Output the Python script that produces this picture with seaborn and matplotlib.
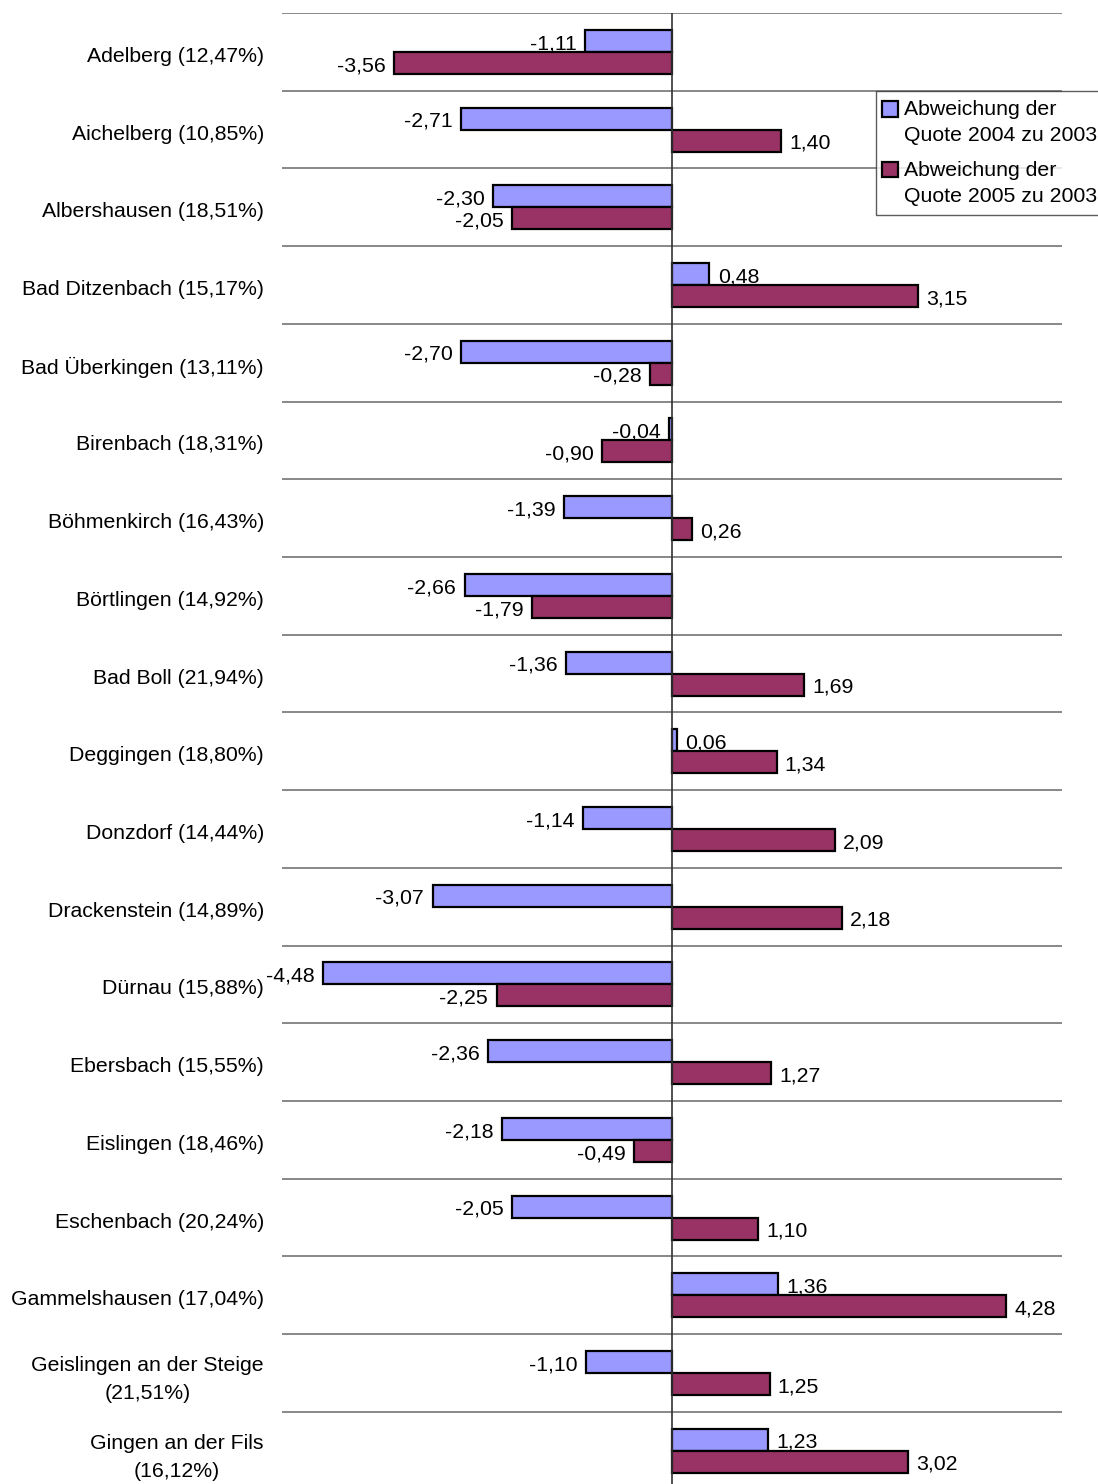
import pandas as pd
import matplotlib
matplotlib.use("Agg")
import matplotlib.pyplot as plt
from matplotlib.patches import Rectangle
from matplotlib.legend_handler import HandlerPatch
from matplotlib.transforms import ScaledTranslation
import seaborn as sns

# Gemeinden mit Quote 2003 in Klammern
gemeinden = [
    "Adelberg (12,47%)", "Aichelberg (10,85%)", "Albershausen (18,51%)",
    "Bad Ditzenbach (15,17%)", "Bad Überkingen (13,11%)", "Birenbach (18,31%)",
    "Böhmenkirch (16,43%)", "Börtlingen (14,92%)", "Bad Boll (21,94%)",
    "Deggingen (18,80%)", "Donzdorf (14,44%)", "Drackenstein (14,89%)",
    "Dürnau (15,88%)", "Ebersbach (15,55%)", "Eislingen (18,46%)",
    "Eschenbach (20,24%)", "Gammelshausen (17,04%)",
    "Geislingen an der Steige\n(21,51%)", "Gingen an der Fils\n(16,12%)",
]
abw_2004 = [-1.11, -2.71, -2.30, 0.48, -2.70, -0.04, -1.39, -2.66, -1.36, 0.06,
            -1.14, -3.07, -4.48, -2.36, -2.18, -2.05, 1.36, -1.10, 1.23]
abw_2005 = [-3.56, 1.40, -2.05, 3.15, -0.28, -0.90, 0.26, -1.79, 1.69, 1.34,
            2.09, 2.18, -2.25, 1.27, -0.49, 1.10, 4.28, 1.25, 3.02]
serien = ["Abweichung der\nQuote 2004 zu 2003", "Abweichung der\nQuote 2005 zu 2003"]

df = pd.concat([
    pd.DataFrame({"gemeinde": gemeinden, "wert": abw_2004, "serie": serien[0]}),
    pd.DataFrame({"gemeinde": gemeinden, "wert": abw_2005, "serie": serien[1]}),
])

sns.set_style("white")
plt.rcParams["font.family"] = ["Liberation Sans", "DejaVu Sans"]
plt.rcParams["text.color"] = "black"
plt.rcParams["ytick.labelcolor"] = "black"
fs = 15.3


class TopSquare(HandlerPatch):
    # Legendenquadrat an der ersten Textzeile ausrichten
    def create_artists(self, legend, orig_handle, xdescent, ydescent,
                       width, height, fontsize, trans):
        p = Rectangle((-xdescent - 2.2, -ydescent + 10.0), width, height)
        self.update_prop(p, orig_handle, legend)
        p.set_transform(trans)
        return [p]


fig = plt.figure(figsize=(10.98, 14.84), dpi=100)
ax = fig.add_axes([282 / 1098, 1 - 1489.5 / 1484, 780 / 1098, 1476.5 / 1484])

sns.barplot(data=df, x="wert", y="gemeinde", hue="serie", orient="h",
            palette=["#9999FF", "#993366"], width=0.566, edgecolor="black",
            linewidth=1.6, saturation=1, ax=ax)

ax.set_xlim(-5, 5)
ax.set_ylim(len(gemeinden) - 0.5, -0.5)
for s in ax.spines.values():
    s.set_visible(False)
ax.set_xticks([])
ax.set_xlabel("")
ax.set_ylabel("")
ax.tick_params(axis="y", length=0, pad=13, labelsize=fs)
shift = ScaledTranslation(0, -2.5 / 100, fig.dpi_scale_trans)
for lbl in ax.get_yticklabels():
    lbl.set_multialignment("center")
    lbl.set_linespacing(1.6)
    if "\n" not in lbl.get_text():
        lbl.set_transform(lbl.get_transform() + shift)

# Trennlinien zwischen den Gemeinden und Nulllinie
for i in range(len(gemeinden) + 1):
    ax.axhline(i - 0.5, color="#7f7f7f", lw=1.3, zorder=0)
ax.axvline(0, color="#333333", lw=1.2, zorder=3)

# Wertebeschriftung
for cont in ax.containers:
    for bar in cont:
        w = bar.get_width()
        y = bar.get_y() + bar.get_height() / 2
        txt = f"{w:.2f}".replace(".", ",")
        if w < 0:
            ax.annotate(txt, (w, y), xytext=(-6, -2), textcoords="offset points",
                        ha="right", va="center", fontsize=fs, annotation_clip=False)
        else:
            ax.annotate(txt, (w, y), xytext=(6, -2), textcoords="offset points",
                        ha="left", va="center", fontsize=fs, annotation_clip=False)

handles, labels = ax.get_legend_handles_labels()
leg = ax.legend(handles, labels, loc="upper left",
                bbox_to_anchor=(876 / 1098, 1 - 91 / 1484),
                bbox_transform=fig.transFigure, borderaxespad=0, frameon=True,
                fancybox=False, edgecolor="#333333", fontsize=fs, handlelength=0.75,
                handleheight=0.75, handletextpad=0.16, borderpad=0.42, labelspacing=0.72,
                handler_map={Rectangle: TopSquare()})
leg.get_frame().set_linewidth(1.0)
for t in leg.get_texts():
    t.set_linespacing(1.5)

fig.savefig("out.png", dpi=100)
